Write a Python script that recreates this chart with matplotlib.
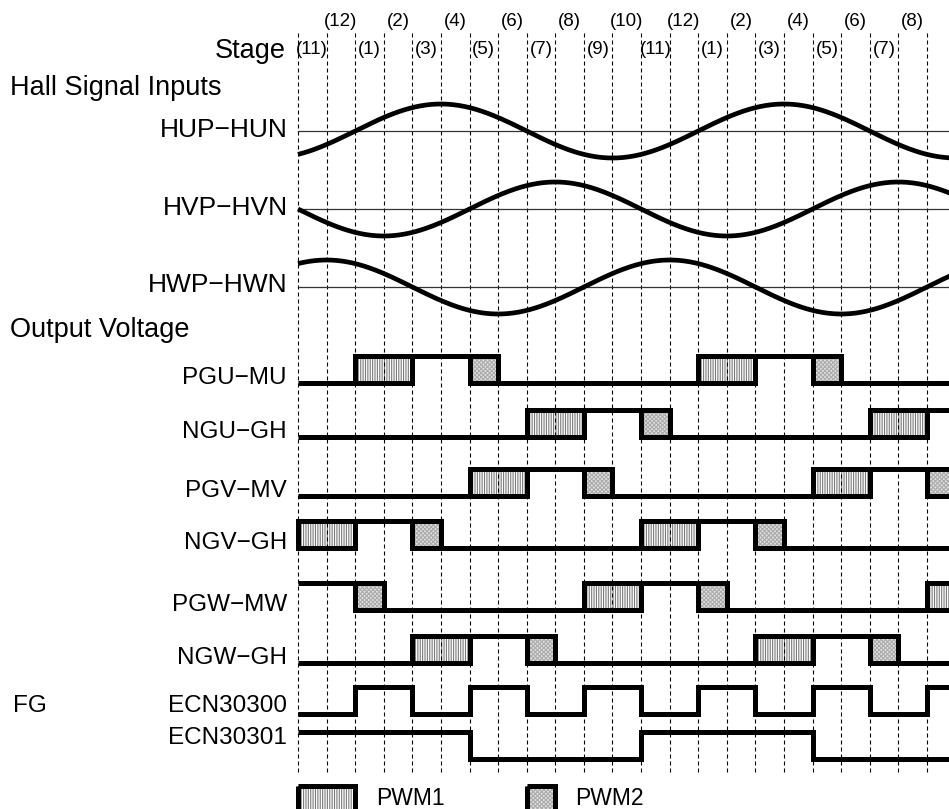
import numpy as np
import matplotlib
matplotlib.use("Agg")
import matplotlib.pyplot as plt
from matplotlib.patches import Rectangle

plt.rcParams['font.family'] = ['Liberation Sans', 'DejaVu Sans']
plt.rcParams['hatch.linewidth'] = 0.8

# ---------------- data ----------------
first_stage = 11          # stage shown in the first column
n_columns = 23            # columns drawn (last one is cut by the right edge)
n_labelled = 22           # columns that carry a stage label

hall_names = ['HUP\u2212HUN', 'HVP\u2212HVN', 'HWP\u2212HWN']
hall_peak_column = [5, 9, 1]     # column boundary where each Hall signal peaks
hall_period = 12                 # stages per electrical period

output_names = ['PGU\u2212MU', 'NGU\u2212GH', 'PGV\u2212MV', 'NGV\u2212GH',
                'PGW\u2212MW', 'NGW\u2212GH']
# state per drawn column : L = low, H = high, P1 = PWM1, P2 = PWM2
PGU_MU = ['L', 'L', 'P1', 'P1', 'H', 'H', 'P2', 'L', 'L', 'L', 'L', 'L',
          'L', 'L', 'P1', 'P1', 'H', 'H', 'P2', 'L', 'L', 'L', 'L']
NGU_GH = ['L', 'L', 'L', 'L', 'L', 'L', 'L', 'L', 'P1', 'P1', 'H', 'H',
          'P2', 'L', 'L', 'L', 'L', 'L', 'L', 'L', 'P1', 'P1', 'H']
PGV_MV = ['L', 'L', 'L', 'L', 'L', 'L', 'P1', 'P1', 'H', 'H', 'P2', 'L',
          'L', 'L', 'L', 'L', 'L', 'L', 'P1', 'P1', 'H', 'H', 'P2']
NGV_GH = ['P1', 'P1', 'H', 'H', 'P2', 'L', 'L', 'L', 'L', 'L', 'L', 'L',
          'P1', 'P1', 'H', 'H', 'P2', 'L', 'L', 'L', 'L', 'L', 'L']
PGW_MW = ['H', 'H', 'P2', 'L', 'L', 'L', 'L', 'L', 'L', 'L', 'P1', 'P1',
          'H', 'H', 'P2', 'L', 'L', 'L', 'L', 'L', 'L', 'L', 'P1']
NGW_GH = ['L', 'L', 'L', 'L', 'P1', 'P1', 'H', 'H', 'P2', 'L', 'L', 'L',
          'L', 'L', 'L', 'L', 'P1', 'P1', 'H', 'H', 'P2', 'L', 'L']
output_states = [PGU_MU, NGU_GH, PGV_MV, NGV_GH, PGW_MW, NGW_GH]

fg_names = ['ECN30300', 'ECN30301']
ECN30300 = ['L', 'L', 'H', 'H', 'L', 'L', 'H', 'H', 'L', 'L', 'H', 'H',
            'L', 'L', 'H', 'H', 'L', 'L', 'H', 'H', 'L', 'L', 'H']
ECN30301 = ['H', 'H', 'H', 'H', 'H', 'H', 'L', 'L', 'L', 'L', 'L', 'L',
            'H', 'H', 'H', 'H', 'H', 'H', 'L', 'L', 'L', 'L', 'L']
fg_states = [ECN30300, ECN30301]

legend_names = ['PWM1', 'PWM2']
legend_codes = ['P1', 'P2']

# ---------------- layout / style ----------------
PX_PER_STAGE = 28.59
X0_PX = 298
W, H = 949, 809

fig = plt.figure(figsize=(W / 100, H / 100), dpi=100)
ax = fig.add_axes([0, 0, 1, 1])
ax.set_xlim(-X0_PX / PX_PER_STAGE, (W - X0_PX) / PX_PER_STAGE)
ax.set_ylim(H, 0)
ax.axis('off')

def sx(px):
    return (px - X0_PX) / PX_PER_STAGE

LW = 3.6
fill_style = {
    'P1': dict(facecolor='white', edgecolor='#7a7a7a', hatch='|||||||', linewidth=0),
    'P2': dict(facecolor='#e2e2e2', edgecolor='#ababab', hatch='xxxxxxxx', linewidth=0),
}

def stage_of(k):
    return (first_stage - 1 + k) % 12 + 1

# dashed stage boundaries
for k in range(n_columns):
    ax.plot([k, k], [33, 772], color='black', lw=0.8,
            linestyle=(0, (3.6, 2.7)), zorder=2)

# stage labels
for k in range(n_labelled):
    st = stage_of(k)
    y = 54 if st % 2 == 1 else 26
    ax.text(k + 0.5, y, f'({st})', ha='center', va='baseline', fontsize=13.5)
ax.text(sx(286), 58, 'Stage', ha='right', va='baseline', fontsize=19.5)

# Hall signals
ax.text(sx(10), 95, 'Hall Signal Inputs', ha='left', va='baseline', fontsize=19.5)
hall_centers = [131, 209, 287]
hall_label_base = [137, 215, 292]
hall_amp = 27
xs = np.linspace(0, n_columns, 600)
for name, peak, yc, yb in zip(hall_names, hall_peak_column, hall_centers, hall_label_base):
    ax.plot([0, n_columns], [yc, yc], color='#333333', lw=0.9, zorder=3)
    ys = yc - hall_amp * np.cos(2 * np.pi * (xs - peak) / hall_period)
    ax.plot(xs, ys, color='black', lw=3.4, zorder=4, solid_capstyle='butt')
    ax.text(sx(288), yb, name, ha='right', va='baseline', fontsize=19)

ax.text(sx(10), 337, 'Output Voltage', ha='left', va='baseline', fontsize=19.5)

def draw_row(cols, low, high):
    levels = np.array([low if c == 'L' else high for c in cols], dtype=float)
    xv = np.repeat(np.arange(len(cols) + 1), 2)[1:-1]
    yv = np.repeat(levels, 2)
    ax.plot(xv, yv, color='black', lw=LW, zorder=5,
            solid_joinstyle='miter', solid_capstyle='butt')
    k = 0
    while k < len(cols):
        c = cols[k]
        if c in ('P1', 'P2'):
            k1 = k
            while k1 < len(cols) and cols[k1] == c:
                k1 += 1
            ax.add_patch(Rectangle((k, high), k1 - k, low - high, zorder=1,
                                   **fill_style[c]))
            ax.add_patch(Rectangle((k, high), k1 - k, low - high, fill=False,
                                   edgecolor='black', lw=LW, zorder=6,
                                   joinstyle='miter'))
            k = k1
        else:
            k += 1

row_low = [383, 437, 496, 548, 610, 663]
ROW_H = 27
for name, states, low in zip(output_names, output_states, row_low):
    draw_row(states, low, low - ROW_H)
    ax.text(sx(287), low + 1, name, ha='right', va='baseline', fontsize=17.5)

fg_low = [714, 759]
fg_label_base = [712, 744]
for name, states, low, yb in zip(fg_names, fg_states, fg_low, fg_label_base):
    draw_row(states, low, low - ROW_H)
    ax.text(sx(287), yb, name, ha='right', va='baseline', fontsize=17.5)
ax.text(sx(13), 712, 'FG', ha='left', va='baseline', fontsize=17.5)

# legend
legend_boxes = [(0, 2), (8, 9)]
legend_text_x = [sx(376), sx(575)]
for name, code, (a, b), tx in zip(legend_names, legend_codes, legend_boxes, legend_text_x):
    ax.add_patch(Rectangle((a, 785.5), b - a, 26, zorder=1, **fill_style[code]))
    ax.add_patch(Rectangle((a, 785.5), b - a, 26, fill=False, edgecolor='black',
                           lw=LW, zorder=6, joinstyle='miter'))
    ax.text(tx, 805, name, ha='left', va='baseline', fontsize=16.5)

fig.savefig('out.png', dpi=100)
